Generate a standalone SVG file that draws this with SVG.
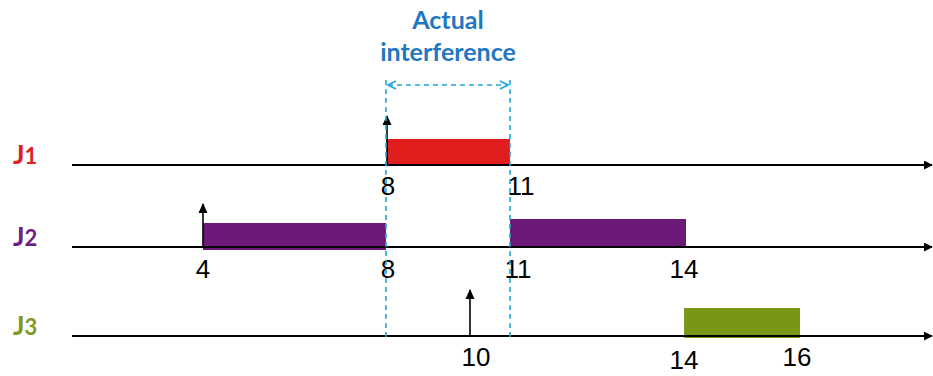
<svg xmlns="http://www.w3.org/2000/svg" width="933" height="376" viewBox="0 0 933 376">
<style>
.axis{stroke:#000;stroke-width:2;fill:none}
.rel{stroke:#000;stroke-width:1.6;fill:none}
.dash{stroke:#1fa6d6;stroke-width:1.6;stroke-dasharray:5,4;fill:none}
.num{font-family:"Liberation Sans",Arial,sans-serif;font-size:26px;fill:#000;text-anchor:middle}
.jl{font-family:Lato,"Open Sans",sans-serif;font-weight:bold;font-size:27px}
.title{font-family:Lato,"Open Sans",sans-serif;font-weight:bold;font-size:25px;fill:#1f78c1;text-anchor:middle}
</style>
<defs>
<marker id="ah" viewBox="0 0 10 10" refX="9" refY="5" markerWidth="10" markerHeight="10" orient="auto" markerUnits="userSpaceOnUse">
<path d="M0,0.5L10,5L0,9.5z" fill="#000"/>
</marker>
<marker id="ax" viewBox="0 0 10 10" refX="9" refY="5" markerWidth="9" markerHeight="9" orient="auto" markerUnits="userSpaceOnUse">
<path d="M0,0L10,5L0,10z" fill="#000"/>
</marker>
<marker id="open" viewBox="0 0 10 10" refX="9" refY="5" markerWidth="10" markerHeight="10" orient="auto-start-reverse" markerUnits="userSpaceOnUse">
<path d="M1,1L9,5L1,9" fill="none" stroke="#1fa6d6" stroke-width="1.6"/>
</marker>
</defs>
<rect width="933" height="376" fill="#fff"/>

<g id="title">
<text class="title" x="448" y="29">Actual</text>
<text class="title" x="448" y="61">interference</text>
</g>

<g id="J1">
<text class="jl" x="13" y="164" fill="#e02020">J<tspan font-size="22">1</tspan></text>
<rect x="387" y="139" width="123" height="26" fill="#e01e1e"/>
<text class="num" x="388" y="195">8</text>
<text class="num" x="521" y="195">11</text>
</g>

<g id="J2">
<text class="jl" x="13" y="246" fill="#6b1f7f">J<tspan font-size="22">2</tspan></text>
<rect x="203" y="223" width="183" height="27" fill="#6c1a78"/>
<rect x="510" y="219" width="176" height="28" fill="#6c1a78"/>
<text class="num" x="203" y="278">4</text>
<text class="num" x="388" y="278">8</text>
<text class="num" x="518" y="278">11</text>
<text class="num" x="684" y="278">14</text>
</g>

<g id="J3">
<text class="jl" x="13" y="335" fill="#7f9a1a">J<tspan font-size="22">3</tspan></text>
<rect x="684" y="308" width="116" height="30" fill="#7a9616"/>
<text class="num" x="476" y="366">10</text>
<text class="num" x="684" y="369">14</text>
<text class="num" x="797" y="366">16</text>
</g>

<g id="connectors">
<line class="axis" x1="72" y1="165" x2="932" y2="165" marker-end="url(#ax)"/>
<line class="axis" x1="72" y1="247" x2="932" y2="247" marker-end="url(#ax)"/>
<line class="axis" x1="72" y1="336" x2="932" y2="336" marker-end="url(#ax)"/>
<line class="rel" x1="387" y1="165" x2="387" y2="116" marker-end="url(#ah)"/>
<line class="rel" x1="203" y1="247" x2="203" y2="204" marker-end="url(#ah)"/>
<line class="rel" x1="470" y1="336" x2="470" y2="290" marker-end="url(#ah)"/>
<line class="dash" x1="386" y1="80" x2="386" y2="338"/>
<line class="dash" x1="510" y1="80" x2="510" y2="338"/>
<line class="dash" x1="388" y1="85" x2="508" y2="85" marker-start="url(#open)" marker-end="url(#open)"/>
</g>
</svg>
